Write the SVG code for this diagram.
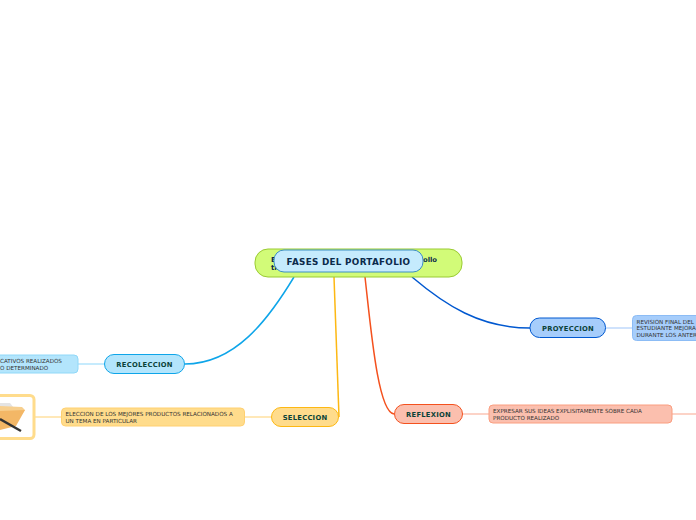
<svg xmlns="http://www.w3.org/2000/svg" width="696" height="520" viewBox="0 0 696 520">
<style>
text{font-family:"DejaVu Sans",sans-serif}
.m{font-size:6.800px;font-weight:700;fill:#0a4238;letter-spacing:.25px;text-anchor:middle}
.s{font-size:5.620px;fill:#333}
.n{stroke-width:1}
.c{fill:none}
</style>
<rect width="696" height="520" fill="#fff"/>
<g id="connectors">
<path class="c" d="M294 277C268 320 235 364 185 364" stroke="#0ea5e9" stroke-width="1.500"/>
<path class="c" d="M334 277L339 417" stroke="#fdb813" stroke-width="1.500"/>
<path class="c" d="M365 277C371 330 378 412 394 414" stroke="#f4511e" stroke-width="1.500"/>
<path class="c" d="M412 277C445 305 480 328 530 328" stroke="#0058d0" stroke-width="1.500"/>
<path class="c" d="M78 364H104" stroke="#b3e5fc" stroke-width="1.500"/>
<path class="c" d="M245 417H271" stroke="#ffe0a0" stroke-width="1.500"/>
<path class="c" d="M35 417H61" stroke="#ffe0a0" stroke-width="1.500"/>
<path class="c" d="M463 414H489" stroke="#fbc4b4" stroke-width="1.500"/>
<path class="c" d="M672 414H696" stroke="#fbc4b4" stroke-width="1.500"/>
<path class="c" d="M606 328H632" stroke="#bfd8fb" stroke-width="1.500"/>
</g>
<g id="node-descripcion">
<rect class="n" x="255" y="249" width="207" height="28" rx="13" fill="#d2fb78" stroke="#9acb32"/>
<text x="271" y="262" font-size="7" font-weight="700" fill="#0b2a4a">E</text>
<text x="271" y="270" font-size="7" font-weight="700" fill="#0b2a4a">ti</text>
<text x="423" y="262" font-size="6.800" font-weight="700" fill="#0b2a4a">ollo</text>
</g>
<g id="node-fases">
<rect class="n" x="274" y="250" width="149" height="22" rx="10" fill="#c5ebfd" stroke="#3d8fc4"/>
<text x="348.500" y="265" font-size="8.800" font-weight="700" fill="#0b2a4a" text-anchor="middle" letter-spacing=".3">FASES DEL PORTAFOLIO</text>
</g>
<g id="node-recoleccion">
<rect class="n" x="104.500" y="354.500" width="80" height="19" rx="9.500" fill="#b3e5fc" stroke="#0ea5e9"/>
<text class="m" x="144.500" y="367">RECOLECCION</text>
</g>
<g id="node-recoleccion-detalle">
<rect class="n" x="-40" y="355" width="118" height="18" rx="4" fill="#b3e5fc" stroke="#90d8f8"/>
<text class="s" x="0" y="363">CATIVOS REALIZADOS</text>
<text class="s" x="0" y="369.500">O DETERMINADO</text>
</g>
<g id="node-seleccion">
<rect class="n" x="271.500" y="407.500" width="67" height="19" rx="9.500" fill="#ffdc8c" stroke="#fdb813"/>
<text class="m" x="305" y="420">SELECCION</text>
</g>
<g id="node-seleccion-detalle">
<rect class="n" x="61.500" y="408" width="183" height="18" rx="4" fill="#ffdc8c" stroke="#ffd070"/>
<text class="s" x="65.500" y="415.500">ELECCION DE LOS MEJORES PRODUCTOS RELACIONADOS A</text>
<text class="s" x="65.500" y="422.500">UN TEMA EN PARTICULAR</text>
</g>
<g id="node-imagen">
<rect x="-12" y="395.500" width="46" height="43" rx="4" fill="#fff" stroke="#ffdc8c" stroke-width="3"/>
<path d="M0 403H10L14 408H0Z" fill="#e4e4e4"/>
<path d="M0 406L22 407L25 410L14 425L0 428Z" fill="#f7cf8e"/>
<path d="M0 411L25 410L16 426L0 430Z" fill="#f3b766"/>
<path d="M0 419L21 431" stroke="#333" stroke-width="2.400" fill="none"/>
</g>
<g id="node-reflexion">
<rect class="n" x="394.500" y="404.500" width="68" height="19" rx="9.500" fill="#fbbfae" stroke="#f4511e"/>
<text class="m" x="428.500" y="417">REFLEXION</text>
</g>
<g id="node-reflexion-detalle">
<rect class="n" x="489" y="405" width="183" height="18" rx="4" fill="#fbbfae" stroke="#fa9e80"/>
<text class="s" x="493" y="413">EXPRESAR SUS IDEAS EXPLISITAMENTE SOBRE CADA</text>
<text class="s" x="493" y="419.500">PRODUCTO REALIZADO</text>
</g>
<g id="node-proyeccion">
<rect class="n" x="530" y="318" width="75.500" height="19.500" rx="9.500" fill="#a6cdfb" stroke="#0058d0"/>
<text class="m" x="568" y="331">PROYECCION</text>
</g>
<g id="node-proyeccion-detalle">
<rect class="n" x="632.500" y="315.500" width="90" height="25" rx="4" fill="#a6cdfb" stroke="#8cbcf5"/>
<text class="s" x="636.500" y="323.500">REVISION FINAL DEL</text>
<text class="s" x="636.500" y="330">ESTUDIANTE MEJORA</text>
<text class="s" x="636.500" y="336.500">DURANTE LOS ANTER</text>
</g>
</svg>
